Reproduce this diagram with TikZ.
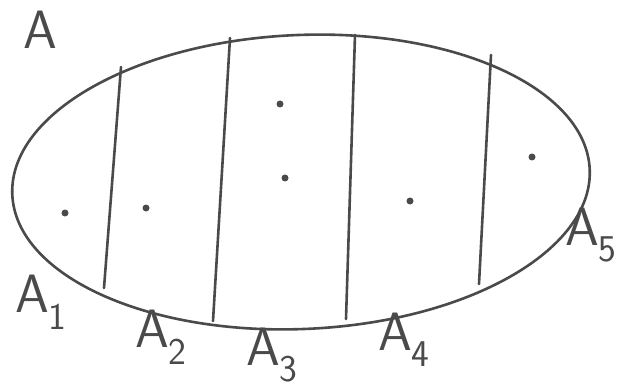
\documentclass[tikz,border=0pt]{standalone}
\usepackage{tikz}
\definecolor{pencil}{HTML}{4A4A4A}

\begin{document}
\begin{tikzpicture}[x=1pt,y=-1pt,
    line/.style={pencil,line width=2.6pt,line cap=round},
    dot/.style={circle,fill=pencil,inner sep=0pt,minimum size=7pt},
    lbl/.style={pencil,font=\sffamily\fontsize{54}{54}\selectfont,inner sep=0pt}]
    \useasboundingbox (0,0) rectangle (618,390);
    % the set A and its parts
    \draw[line,rotate around={2.5:(301,182)}] (301,182) ellipse [x radius=289,y radius=147];
    \draw[line] (121,67) -- (104,288);
    \draw[line] (230,38) -- (213,321);
    \draw[line] (355,35) -- (346,319);
    \draw[line] (491,55) -- (479,284);
    % points
    \node[dot] (p1) at (65,213) {};
    \node[dot] (p2) at (146,208) {};
    \node[dot] (p3) at (280,104) {};
    \node[dot] (p4) at (285,178) {};
    \node[dot] (p5) at (410,201) {};
    \node[dot] (p6) at (532,157) {};
    % labels
    \node[lbl] (lA) at (40,30) {A};
    \node[lbl] (lA1) at (32,302) {A\rlap{\textsubscript{1}}};
    \node[lbl] (lA2) at (152,337) {A\rlap{\textsubscript{2}}};
    \node[lbl] (lA3) at (263,355) {A\rlap{\textsubscript{3}}};
    \node[lbl] (lA4) at (395,340) {A\rlap{\textsubscript{4}}};
    \node[lbl] (lA5) at (582,235) {A\rlap{\textsubscript{5}}};
  \end{tikzpicture}
\end{document}
